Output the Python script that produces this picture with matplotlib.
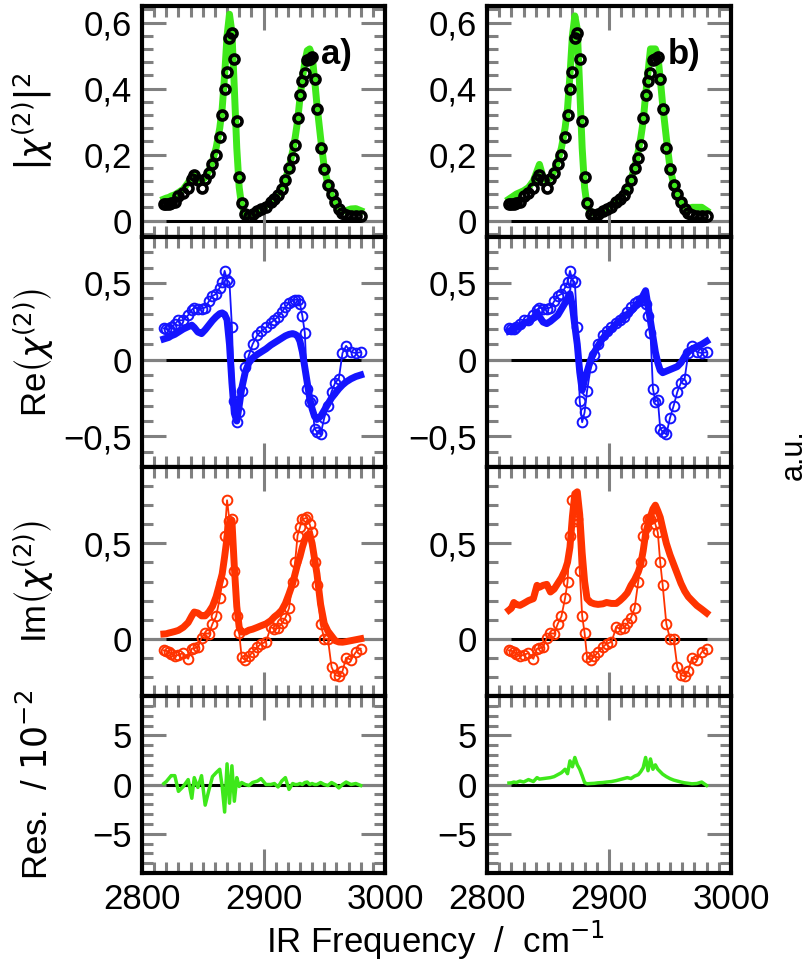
import numpy as np
import matplotlib
matplotlib.use('Agg')
from matplotlib import pyplot as plt
from matplotlib.ticker import MultipleLocator, FuncFormatter

plt.rcParams['font.family'] = ['Liberation Sans', 'DejaVu Sans']
plt.rcParams['mathtext.fontset'] = 'dejavusans'

# frequency grid of the measured points (cm^-1)
freq = [2818, 2820, 2822, 2824, 2827, 2830, 2834, 2838, 2841, 2843,
        2846, 2849, 2852, 2855, 2858, 2861, 2864, 2866, 2868, 2870,
        2872, 2874, 2876, 2878, 2880, 2882, 2885, 2888, 2891, 2895,
        2898, 2902, 2906, 2909, 2912, 2915, 2918, 2921, 2924, 2926,
        2928, 2930, 2932, 2934, 2936, 2938, 2940, 2942, 2944, 2947,
        2950, 2953, 2956, 2959, 2962, 2965, 2968, 2972, 2976, 2980]

# measured data (same in both columns)
abs2_data = [0.049, 0.049, 0.05, 0.053, 0.056, 0.073, 0.083, 0.10, 0.125, 0.139,
             0.122, 0.099, 0.125, 0.145, 0.17, 0.198, 0.254, 0.32, 0.40, 0.45,
             0.554, 0.567, 0.49, 0.303, 0.132, 0.053, 0.02, 0.015, 0.02, 0.03,
             0.034, 0.042, 0.055, 0.065, 0.076, 0.094, 0.122, 0.16, 0.19, 0.229,
             0.31, 0.38, 0.422, 0.448, 0.485, 0.49, 0.496, 0.429, 0.338, 0.22,
             0.155, 0.107, 0.08, 0.055, 0.036, 0.022, 0.017, 0.015, 0.015, 0.015]
re_data = [0.204, 0.20, 0.197, 0.21, 0.232, 0.257, 0.257, 0.29, 0.325, 0.339,
           0.333, 0.333, 0.34, 0.38, 0.415, 0.429, 0.47, 0.504, 0.579, 0.52,
           0.504, 0.215, -0.27, -0.408, -0.343, -0.204, -0.05, 0.03, 0.10, 0.161,
           0.185, 0.21, 0.24, 0.26, 0.279, 0.31, 0.343, 0.369, 0.385, 0.391,
           0.391, 0.365, 0.285, 0.176, -0.189, -0.273, -0.26, -0.451, -0.47, -0.487,
           -0.38, -0.30, -0.21, -0.15, -0.124, 0.043, 0.09, 0.05, 0.043, 0.049]
im_data = [-0.061, -0.063, -0.07, -0.078, -0.09, -0.085, -0.075, -0.105, -0.052, -0.05,
           -0.044, 0.005, 0.03, 0.026, 0.078, 0.117, 0.213, 0.296, 0.54, 0.726,
           0.618, 0.627, 0.357, 0.12, 0.03, -0.096, -0.113, -0.092, -0.07, -0.044,
           -0.026, -0.017, 0.061, 0.052, 0.056, 0.08, 0.11, 0.16, 0.30, 0.40,
           0.54, 0.584, 0.627, 0.63, 0.636, 0.60, 0.557, 0.40, 0.28, 0.078,
           0.0, 0.0, -0.148, -0.19, -0.197, -0.17, -0.099, -0.11, -0.07, -0.052]

# fit a)
abs2_fit_a = [0.065, 0.068, 0.07, 0.074, 0.078, 0.085, 0.095, 0.115, 0.135, 0.14,
              0.125, 0.12, 0.13, 0.15, 0.18, 0.22, 0.28, 0.34, 0.44, 0.56,
              0.625, 0.57, 0.40, 0.22, 0.10, 0.045, 0.02, 0.018, 0.022, 0.03,
              0.036, 0.045, 0.056, 0.068, 0.08, 0.10, 0.125, 0.16, 0.21, 0.25,
              0.30, 0.37, 0.43, 0.48, 0.515, 0.52, 0.50, 0.43, 0.35, 0.25,
              0.16, 0.11, 0.075, 0.05, 0.035, 0.028, 0.03, 0.035, 0.036, 0.03]
re_fit_a = [0.135, 0.14, 0.145, 0.155, 0.165, 0.18, 0.20, 0.215, 0.225, 0.21,
            0.18, 0.17, 0.195, 0.225, 0.255, 0.28, 0.30, 0.305, 0.295, 0.26,
            0.10, -0.15, -0.35, -0.40, -0.30, -0.19, -0.08, -0.02, 0.01, 0.035,
            0.05, 0.07, 0.095, 0.11, 0.125, 0.14, 0.155, 0.165, 0.17, 0.165,
            0.155, 0.12, 0.05, -0.05, -0.15, -0.25, -0.32, -0.37, -0.39, -0.37,
            -0.33, -0.29, -0.25, -0.22, -0.19, -0.165, -0.145, -0.125, -0.11, -0.10]
im_fit_a = [0.025, 0.026, 0.03, 0.033, 0.038, 0.044, 0.06, 0.085, 0.12, 0.14,
            0.135, 0.12, 0.12, 0.14, 0.17, 0.22, 0.29, 0.34, 0.43, 0.53,
            0.61, 0.62, 0.375, 0.17, 0.06, 0.035, 0.035, 0.045, 0.05, 0.06,
            0.068, 0.078, 0.095, 0.115, 0.13, 0.15, 0.185, 0.235, 0.29, 0.34,
            0.39, 0.43, 0.48, 0.52, 0.545, 0.55, 0.50, 0.42, 0.34, 0.18,
            0.08, 0.04, 0.015, -0.01, -0.017, -0.018, -0.015, -0.01, -0.005, 0.0]
res_a = [0.1, 0.3, 0.6, 0.9, 0.9, -0.7, -0.2, 0.5, -1.4, 0.7,
         -0.3, 0.9, -2.1, -0.6, 0.8, 1.2, 1.55, -0.2, -2.8, 2.1,
         -1.9, 1.9, -1.7, 0.7, -0.2, 0.2, 0.0, -0.1, 0.2, 0.35,
         0.6, 0.0, 0.0, 0.1, -0.25, 0.35, 0.7, -0.5, 0.1, 0.0,
         0.0, 0.1, 0.0, 0.2, 0.25, 0.0, 0.1, 0.0, 0.0, 0.2,
         0.0, -0.1, 0.2, 0.0, -0.35, 0.0, 0.25, 0.0, 0.1, -0.1]

# fit b)
abs2_fit_b = [0.065, 0.07, 0.075, 0.08, 0.085, 0.09, 0.10, 0.12, 0.15, 0.17,
              0.13, 0.12, 0.13, 0.15, 0.18, 0.22, 0.28, 0.34, 0.44, 0.56,
              0.62, 0.58, 0.40, 0.22, 0.10, 0.045, 0.025, 0.022, 0.025, 0.032,
              0.038, 0.046, 0.058, 0.07, 0.082, 0.10, 0.125, 0.16, 0.21, 0.25,
              0.30, 0.38, 0.45, 0.52, 0.52, 0.52, 0.50, 0.43, 0.35, 0.25,
              0.16, 0.11, 0.075, 0.055, 0.04, 0.035, 0.04, 0.04, 0.04, 0.03]
re_fit_b = [0.185, 0.19, 0.20, 0.21, 0.22, 0.235, 0.25, 0.27, 0.31, 0.28,
            0.245, 0.235, 0.25, 0.27, 0.29, 0.33, 0.37, 0.40, 0.43, 0.35,
            0.22, 0.10, -0.08, -0.20, -0.13, -0.08, 0.0, 0.05, 0.09, 0.14,
            0.17, 0.20, 0.235, 0.255, 0.275, 0.295, 0.315, 0.34, 0.37, 0.39,
            0.42, 0.45, 0.35, 0.25, 0.15, 0.05, -0.02, -0.07, -0.085, -0.075,
            -0.065, -0.055, -0.045, -0.02, 0.02, 0.05, 0.07, 0.085, 0.10, 0.12]
im_fit_b = [0.15, 0.16, 0.19, 0.18, 0.175, 0.185, 0.20, 0.21, 0.28, 0.27,
            0.28, 0.285, 0.245, 0.26, 0.29, 0.32, 0.36, 0.40, 0.48, 0.64,
            0.76, 0.77, 0.65, 0.45, 0.30, 0.21, 0.19, 0.183, 0.18, 0.183,
            0.19, 0.185, 0.185, 0.20, 0.218, 0.24, 0.28, 0.31, 0.35, 0.39,
            0.46, 0.55, 0.60, 0.64, 0.68, 0.70, 0.67, 0.636, 0.58, 0.50,
            0.44, 0.39, 0.34, 0.29, 0.25, 0.22, 0.20, 0.174, 0.155, 0.135]
res_b = [0.15, 0.17, 0.25, 0.2, 0.35, 0.25, 0.5, 0.3, 0.7, 0.55,
         0.6, 0.65, 0.7, 0.8, 1.0, 1.2, 1.55, 1.1, 2.4, 1.8,
         2.75, 2.0, 1.55, 0.9, 0.2, 0.07, 0.1, 0.12, 0.17, 0.2,
         0.25, 0.3, 0.4, 0.5, 0.6, 0.7, 0.6, 0.85, 1.0, 1.3,
         1.7, 2.75, 1.4, 2.6, 1.55, 2.0, 1.55, 1.3, 1.05, 0.8,
         0.6, 0.45, 0.35, 0.25, 0.17, 0.12, 0.07, 0.1, 0.25, -0.1]

green = '#3ee81a'
blue = '#1414ff'
red = '#ff3300'
grey = '#808080'
fs = 25


def comma(v, pos):
    s = ('%g' % v).replace('.', ',').replace('-', '\u2212')
    return s


fig = plt.figure(figsize=(8.12, 9.77), dpi=100)

col_x = [142 / 812, 487 / 812]
col_w = [243 / 812, 244 / 812]
rows_px = [6, 237, 467, 696, 873]
ylims = [(-0.05, 0.65), (-0.7, 0.8), (-0.3, 0.9), (-9, 9)]
ymaj = [0.2, 0.5, 0.5, 5]
ymin = [0.04, 0.1, 0.1, 1]
ylabels = [r'$\left|\chi^{(2)}\right|^2$', r'Re$\left(\chi^{(2)}\right)$',
           r'Im$\left(\chi^{(2)}\right)$', r'Res.  / $10^{-2}$']

fits = [(abs2_fit_a, re_fit_a, im_fit_a, res_a),
        (abs2_fit_b, re_fit_b, im_fit_b, res_b)]

for c in range(2):
    a2, rf, imf, rs = fits[c]
    for r in range(4):
        top, bot = rows_px[r], rows_px[r + 1]
        ax = fig.add_axes([col_x[c], 1 - bot / 977, col_w[c], (bot - top) / 977])
        ax.axhline(0, color='k', lw=2.2, zorder=1)
        if r == 0:
            ax.plot(freq, a2, color=green, lw=5, zorder=2)
            ax.plot(freq, abs2_data, 'o', mfc='none', mec='k', ms=6.5, mew=2.6, zorder=3)
        elif r == 1:
            ax.plot(freq, re_data, '-o', color=blue, lw=1.3, mfc='none', ms=7, mew=1.4, zorder=3)
            ax.plot(freq, rf, color=blue, lw=5, zorder=2)
        elif r == 2:
            ax.plot(freq, im_data, '-o', color=red, lw=1.3, mfc='none', ms=7, mew=1.4, zorder=3)
            ax.plot(freq, imf, color=red, lw=5, zorder=2)
        else:
            ax.plot(freq, rs, color=green, lw=2.5, zorder=2)
        ax.set_xlim(2800, 3000)
        ax.set_ylim(*ylims[r])
        ax.xaxis.set_major_locator(MultipleLocator(100))
        ax.xaxis.set_minor_locator(MultipleLocator(10))
        ax.yaxis.set_major_locator(MultipleLocator(ymaj[r]))
        ax.yaxis.set_minor_locator(MultipleLocator(ymin[r]))
        ax.yaxis.set_major_formatter(FuncFormatter(comma))
        ax.tick_params(which='both', direction='in', top=True, right=True,
                       color=grey, width=2.2, labelsize=fs, pad=7)
        ax.tick_params(which='major', length=17)
        ax.tick_params(which='minor', length=8)
        for sp in ax.spines.values():
            sp.set_linewidth(3)
        if r < 3:
            ax.tick_params(labelbottom=False)
        if c == 0:
            ax.set_ylabel(ylabels[r], fontsize=fs)
            ax.yaxis.set_label_coords(-0.36, 0.5)
        if r == 0:
            ax.text(0.81 if c else 0.80, 0.79, 'b)' if c else 'a)', transform=ax.transAxes,
                    fontsize=fs, fontweight='bold', ha='center', va='center')

fig.text(436 / 812, 1 - 940 / 977, 'IR Frequency  /  cm$^{-1}$', fontsize=fs,
         ha='center', va='center')
fig.text(794 / 812, 1 - 455 / 977, 'a.u.', fontsize=22, rotation=90,
         ha='center', va='center')

fig.savefig('out.png', dpi=100)
